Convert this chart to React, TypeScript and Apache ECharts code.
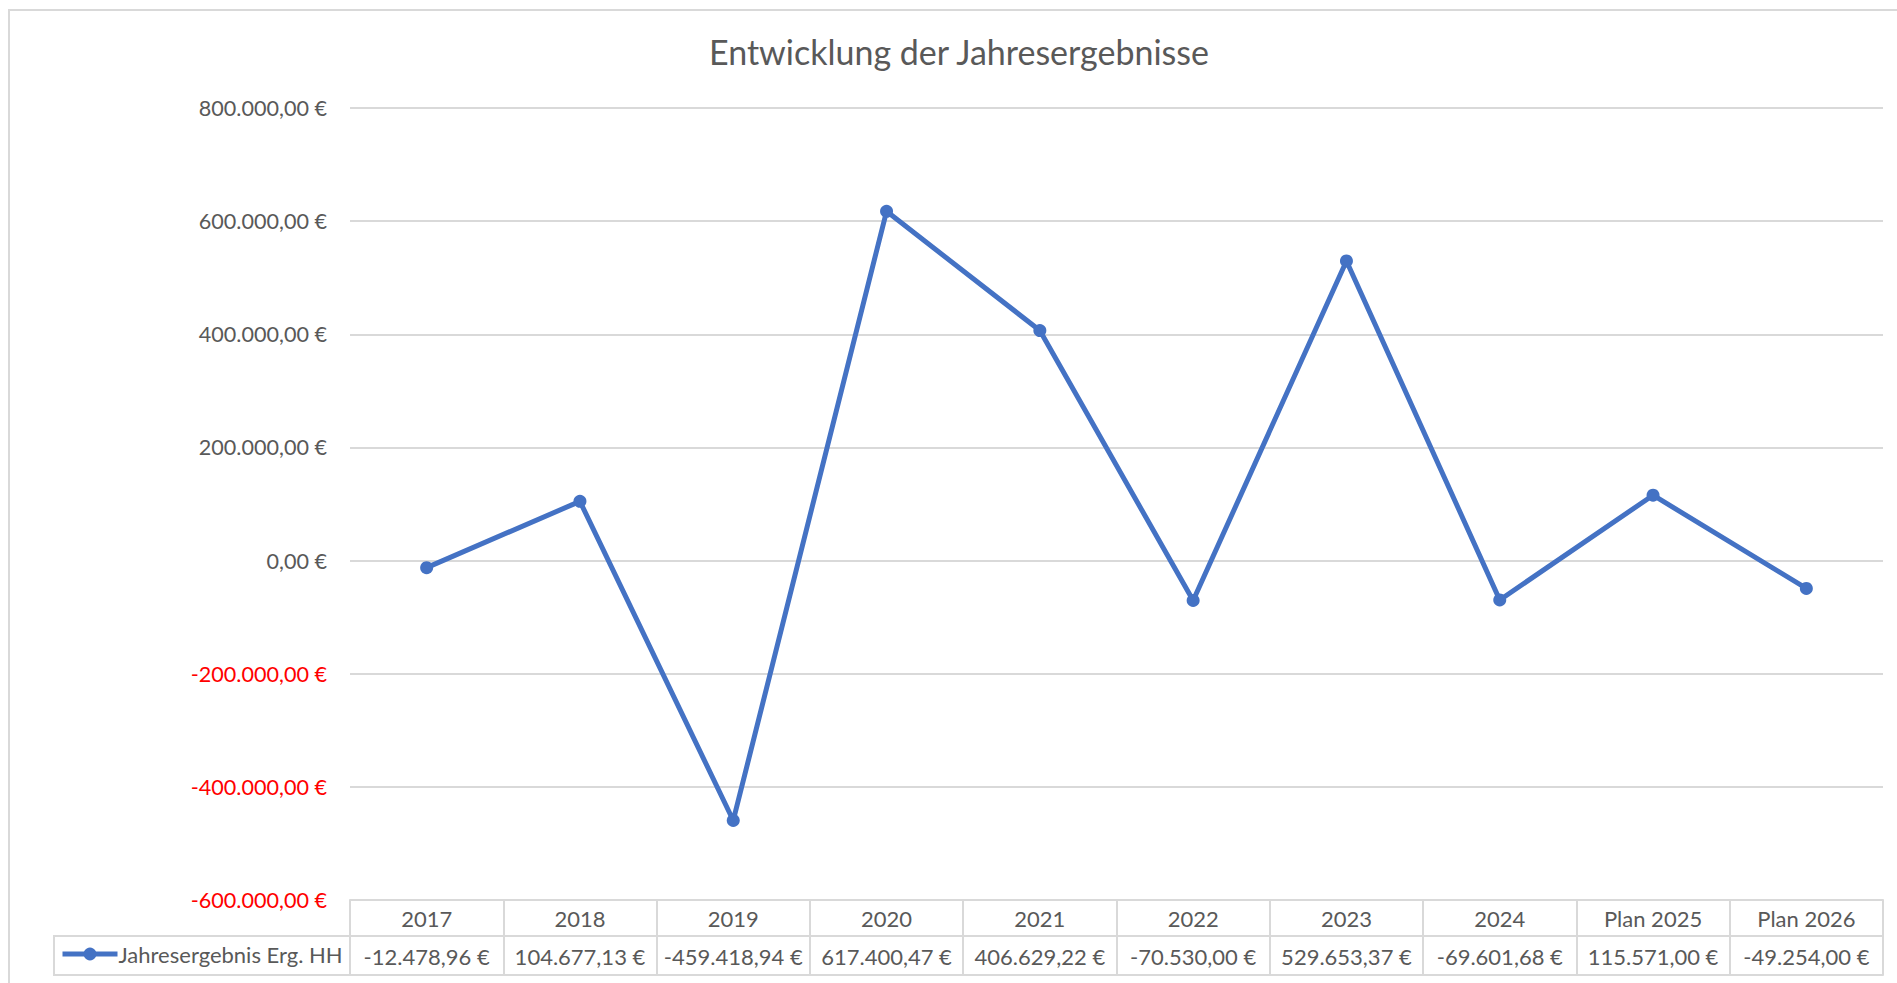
import React, { useEffect, useRef } from "react";
import * as echarts from "echarts";

const categories = ["2017", "2018", "2019", "2020", "2021", "2022", "2023", "2024", "Plan 2025", "Plan 2026"];
const values = [-12478.96, 104677.13, -459418.94, 617400.47, 406629.22, -70530.0, 529653.37, -69601.68, 115571.0, -49254.0];
const seriesName = "Jahresergebnis Erg. HH";
const titleText = "Entwicklung der Jahresergebnisse";
const yMin = -600000;
const yMax = 800000;
const yStep = 200000;

function fmtEuro(v: number): string {
  const neg = v < 0;
  const s = Math.abs(v).toFixed(2);
  const [intPart, dec] = s.split(".");
  let out = "";
  for (let i = 0; i < intPart.length; i++) {
    if (i > 0 && (intPart.length - i) % 3 === 0) out += ".";
    out += intPart[i];
  }
  return (neg ? "-" : "") + out + "," + dec + " €";
}

const FONT = "Lato";
const GRAY = "#595959";
const LINE = "#d9d9d9";
const BLUE = "#4472C4";

export default function App() {
  const ref = useRef<HTMLDivElement>(null);
  useEffect(() => {
    if (!ref.current) return;
    const chart = echarts.init(ref.current, undefined, { renderer: "svg" });
    chart.setOption({
      animation: false,
      backgroundColor: "#ffffff",
      textStyle: { fontFamily: FONT },
      title: {
        text: titleText,
        left: 959,
        top: 34,
        textAlign: "center",
        padding: 0,
        textStyle: { fontFamily: FONT, fontSize: 34, fontWeight: "normal", color: GRAY },
      },
      legend: {
        left: 60,
        top: 943,
        padding: 0,
        itemWidth: 55,
        itemHeight: 16,
        itemGap: 4,
        lineStyle: { width: 5, color: BLUE },
        itemStyle: { color: BLUE },
        textStyle: { fontFamily: FONT, fontSize: 22, color: GRAY, padding: [0, 0, 0, -4] },
        data: [seriesName],
      },
      grid: { left: 350, right: 14, top: 108, bottom: 83, containLabel: false },
      xAxis: [
        {
          type: "category",
          data: categories,
          position: "bottom",
          boundaryGap: true,
          axisLine: { show: true, onZero: false, lineStyle: { color: LINE, width: 2 } },
          axisTick: { show: true, length: 75, interval: 0, lineStyle: { color: LINE, width: 2 } },
          axisLabel: {
            interval: 0,
            margin: 18,
            verticalAlign: "middle",
            fontFamily: FONT,
            fontSize: 22,
            color: GRAY,
          },
          splitLine: { show: false },
        },
        {
          type: "category",
          data: categories,
          position: "bottom",
          offset: 36,
          boundaryGap: true,
          axisLine: { show: true, onZero: false, lineStyle: { color: LINE, width: 2 } },
          axisTick: { show: false },
          axisLabel: {
            interval: 0,
            margin: 20,
            verticalAlign: "middle",
            fontFamily: FONT,
            fontSize: 22,
            color: GRAY,
            formatter: (_v: string, idx: number) => fmtEuro(values[idx]),
          },
          splitLine: { show: false },
        },
        {
          type: "category",
          data: categories,
          position: "bottom",
          offset: 75,
          boundaryGap: true,
          axisLine: { show: true, onZero: false, lineStyle: { color: LINE, width: 2 } },
          axisTick: { show: false },
          axisLabel: { show: false },
          splitLine: { show: false },
        },
      ],
      yAxis: {
        type: "value",
        min: yMin,
        max: yMax,
        interval: yStep,
        axisLine: { show: false },
        axisTick: { show: false },
        splitLine: { show: true, lineStyle: { color: LINE, width: 2 } },
        axisLabel: {
          margin: 23,
          fontFamily: FONT,
          fontSize: 21.6,
          color: (v: any) => (Number(v) < 0 ? "#ff0000" : GRAY),
          formatter: (v: number) => fmtEuro(v),
        },
      },
      graphic: [
        {
          type: "rect",
          shape: { x: 9, y: 10, width: 1960, height: 1060 },
          style: { fill: "none", stroke: LINE, lineWidth: 2 },
          silent: true,
          z: -1,
        },
        {
          type: "rect",
          shape: { x: 54, y: 936, width: 296, height: 39 },
          style: { fill: "none", stroke: LINE, lineWidth: 2 },
          silent: true,
        },
      ],
      series: [
        {
          name: seriesName,
          type: "line",
          xAxisIndex: 0,
          data: values,
          symbol: "circle",
          symbolSize: 13,
          showSymbol: true,
          itemStyle: { color: BLUE },
          lineStyle: { color: BLUE, width: 5 },
        },
      ],
    });
    return () => chart.dispose();
  }, []);
  return (
    <div
      ref={ref}
      style={{ position: "fixed", left: 0, top: 0, width: 1897, height: 983, background: "#fff" }}
    />
  );
}
